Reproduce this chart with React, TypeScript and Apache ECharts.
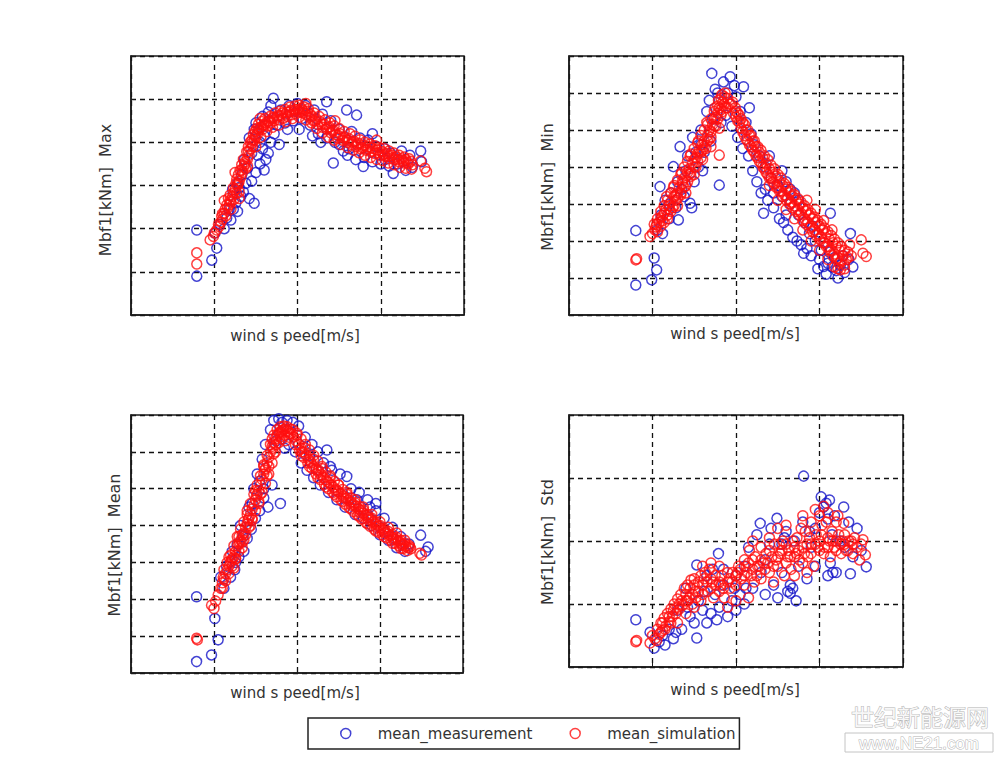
import React, { useEffect, useRef } from "react";
import * as echarts from "echarts";

// ---------- data (x: wind speed grid units, y: load grid units) ----------
const maxMeas: number[][] = [
  [0.79,1.97],[0.79,0.9],[0.97,1.27],[1.03,1.55],[1.01,1.9],[1.07,2.1],[1.12,2.0],[1.15,2.25],[1.2,2.2],[1.18,2.45],
  [1.23,2.45],[1.28,2.4],[1.26,2.6],[1.32,2.75],[1.22,2.9],[1.3,2.95],[1.35,2.85],[1.42,2.7],[1.38,3.05],[1.28,3.05],
  [1.33,3.25],[1.45,3.1],[1.48,2.59],[1.4,3.4],[1.36,3.6],[1.5,3.3],[1.55,3.5],[1.6,3.36],[1.52,3.7],[1.45,3.75],
  [1.58,3.85],[1.62,3.6],[1.65,3.75],[1.55,4.0],[1.48,4.3],[1.42,4.1],[1.6,4.15],[1.68,4.0],[1.5,4.45],[1.58,4.6],
  [1.65,4.7],[1.71,5.02],[1.68,4.85],[1.75,4.4],[1.8,4.75],[1.85,4.45],[1.9,4.85],[1.95,4.5],[2.0,4.9],[2.05,4.55],
  [2.1,4.85],[2.15,4.4],[2.2,4.75],[2.25,4.2],[2.3,4.65],[2.35,4.94],[2.28,4.0],[2.4,4.5],[2.43,3.52],[2.45,4.0],
  [2.5,4.3],[2.55,3.8],[2.59,4.75],[2.71,4.63],[2.65,4.25],[2.6,3.7],[2.7,3.6],[2.75,4.1],[2.79,3.44],[2.8,3.65],
  [2.85,4.05],[2.9,3.55],[2.95,3.9],[3.0,3.5],[3.05,3.85],[3.1,3.45],[3.15,3.28],[3.12,3.75],[3.2,3.5],[3.25,3.8],
  [3.3,3.35],[3.35,3.7],[3.38,3.42],[3.48,3.8],[3.49,3.55],[2.02,4.3],[1.88,4.3],[2.18,4.15],[2.35,4.1],[2.5,3.95],
  [2.62,3.85],[2.9,4.2],[3.05,3.6],[1.72,4.2],[1.78,3.95]
];
const maxSim: number[][] = [
  [0.79,1.44],[0.79,1.18],[0.95,1.74],[0.99,1.82],[1.03,1.97],[1.06,2.05],[1.08,2.15],[1.1,2.22],[1.12,2.35],[1.14,2.3],
  [1.16,2.48],[1.18,2.55],[1.2,2.62],[1.17,2.7],[1.22,2.75],[1.24,2.68],[1.25,2.9],[1.27,2.82],[1.28,3.0],[1.3,3.1],
  [1.26,3.05],[1.32,3.2],[1.34,3.3],[1.31,3.35],[1.36,3.45],[1.38,3.4],[1.37,3.55],[1.4,3.62],[1.42,3.7],[1.39,3.78],
  [1.44,3.85],[1.46,3.92],[1.43,4.0],[1.48,4.05],[1.5,4.12],[1.47,4.18],[1.52,4.2],[1.54,4.28],[1.51,4.32],[1.56,4.35],
  [1.58,4.3],[1.6,4.4],[1.62,4.45],[1.64,4.38],[1.66,4.5],[1.68,4.45],[1.7,4.55],[1.72,4.5],[1.75,4.58],[1.78,4.52],
  [1.8,4.62],[1.83,4.56],[1.86,4.65],[1.88,4.6],[1.9,4.7],[1.93,4.64],[1.96,4.72],[1.98,4.66],[2.0,4.76],[2.03,4.7],
  [2.05,4.78],[2.07,4.68],[2.1,4.65],[2.12,4.72],[2.14,4.58],[2.17,4.6],[2.19,4.5],[2.22,4.55],[2.24,4.42],[2.27,4.48],
  [2.3,4.35],[2.32,4.42],[2.35,4.3],[2.38,4.36],[2.4,4.22],[2.43,4.28],[2.46,4.18],[2.48,4.1],[2.51,4.2],[2.54,4.05],
  [2.57,4.12],[2.6,4.0],[2.62,4.08],[2.65,3.95],[2.68,4.02],[2.7,3.9],[2.73,3.98],[2.76,3.85],[2.79,3.93],[2.82,3.82],
  [2.85,3.9],[2.88,3.78],[2.9,3.86],[2.93,3.74],[2.96,3.82],[2.99,3.7],[3.02,3.78],[3.05,3.68],[3.08,3.74],[3.1,3.62],
  [3.13,3.7],[3.16,3.6],[3.19,3.66],[3.22,3.55],[3.25,3.62],[3.28,3.52],[3.3,3.6],[3.33,3.5],[3.36,3.56],[3.38,3.48],
  [3.48,3.57],[3.55,3.32],[3.53,3.4],[2.45,4.5],[2.95,4.05],[2.1,4.9],[1.55,4.55],[1.25,3.3],[1.12,2.65],[1.3,2.7],
  [1.0,1.9],[1.05,2.1],[1.1,2.35],[1.15,2.55],[1.19,2.78],[1.23,2.95],[1.27,3.15],[1.29,3.25],[1.33,3.48],[1.35,3.6],
  [1.41,3.9],[1.45,4.05],[1.49,4.25],[1.53,4.42],[1.57,4.48],[1.61,4.55],[1.67,4.6],[1.73,4.68],[1.79,4.72],[1.85,4.76],
  [1.91,4.82],[1.97,4.84],[2.02,4.86],[2.08,4.82],[2.13,4.78],[2.2,4.68],[2.26,4.6],[2.33,4.52],[2.39,4.45],[2.44,4.38],
  [2.5,4.32],[2.56,4.25],[2.63,4.2],[2.69,4.14],[2.75,4.06],[2.81,4.0],[2.87,3.96],[2.93,3.92],[2.98,3.88],[3.04,3.86],
  [3.1,3.8],[3.16,3.75],[3.22,3.7],[3.28,3.66],[3.34,3.62],
  [1.2,2.45],[1.3,2.85],[1.4,3.45],[1.5,3.9],[1.56,4.12],[1.63,4.25],[1.7,4.35],[1.78,4.4],[1.86,4.48],[1.94,4.55],
  [2.02,4.58],[2.1,4.52],[2.17,4.45],[2.23,4.32],[2.3,4.22],[2.37,4.12],[2.44,4.05],[2.52,3.95],[2.6,3.88],[2.67,3.82],
  [2.74,3.76],[2.81,3.7],[2.88,3.65],[2.95,3.6],[3.02,3.58],[3.09,3.52],[3.16,3.48],[3.23,3.42],[3.3,3.4],[3.37,3.38],
  [2.06,4.74],[2.16,4.64],[2.21,4.5],[2.29,4.42],[2.36,4.34],[2.42,4.25],[2.49,4.16],[2.55,4.1],[2.61,4.04],[2.66,4.0],
  [2.72,3.94],[2.78,3.88],[2.84,3.84],[2.9,3.8],[2.97,3.76],[3.03,3.72],[3.09,3.68],[3.15,3.64],[3.21,3.6],[3.27,3.56],
  [3.32,3.54],[1.09,2.28],[1.13,2.45],[1.19,2.65],[1.23,2.82],[1.29,3.05],[1.33,3.35],[1.37,3.5],[1.41,3.78],[1.45,3.98],
  [1.49,4.15],[1.53,4.3],[1.59,4.4],[1.65,4.48],[1.71,4.58],[1.77,4.62],[1.82,4.68],[1.87,4.7],[1.92,4.74],[1.97,4.76],
  [2.01,4.72]
];
const minMeas: number[][] = [
  [0.8,2.28],[0.8,0.81],[1.02,1.54],[1.05,1.22],[0.99,0.95],[1.06,2.3],[1.09,3.47],[1.1,2.7],[1.15,3.1],[1.2,2.6],
  [1.25,4.01],[1.22,3.3],[1.31,2.57],[1.33,4.55],[1.3,3.6],[1.38,3.2],[1.45,3.02],[1.47,2.9],[1.42,4.3],[1.5,3.6],
  [1.55,4.0],[1.48,4.8],[1.58,5.0],[1.6,3.9],[1.65,5.5],[1.62,4.4],[1.7,4.7],[1.71,6.53],[1.75,6.1],[1.68,5.8],
  [1.8,3.51],[1.78,6.0],[1.82,5.2],[1.85,6.3],[1.88,5.4],[1.93,6.44],[1.9,6.0],[1.95,5.1],[2.0,5.9],[2.02,4.8],
  [2.05,5.5],[2.09,6.17],[2.08,4.5],[2.12,5.2],[2.15,4.3],[2.18,4.9],[2.2,3.9],[2.22,4.6],[2.25,3.6],[2.28,4.3],
  [2.3,3.3],[2.33,2.75],[2.35,4.0],[2.38,3.1],[2.42,3.7],[2.45,2.9],[2.5,3.5],[2.52,2.6],[2.57,2.5],[2.55,3.2],
  [2.6,3.6],[2.62,2.3],[2.65,3.0],[2.68,2.1],[2.7,3.3],[2.73,2.0],[2.75,2.7],[2.78,1.9],[2.81,1.67],[2.82,2.5],
  [2.85,1.8],[2.88,2.2],[2.9,1.6],[2.95,2.0],[3.0,1.5],[3.05,1.31],[3.02,1.75],[3.1,1.4],[3.13,2.75],[3.15,1.3],
  [3.18,1.55],[3.2,1.2],[3.25,1.35],[3.3,1.15],[3.37,2.2],[3.35,1.5],[3.4,1.3],[2.55,3.9],[2.65,3.4],[2.75,3.1],
  [2.45,3.3],[2.35,3.4],[1.4,3.9],[1.52,4.4],[1.2,3.0],[1.35,3.4],[1.12,2.2],[1.28,2.9],[1.58,4.6],[1.72,5.3],
  [1.98,6.2],[2.16,5.6],[2.4,4.3],[2.6,2.7],[2.92,2.4],[3.08,1.1],[3.22,1.0],[3.12,1.7],[2.98,1.25],[3.28,1.6]
];
const minSim: number[][] = [
  [0.8,1.49],[0.81,1.52],[0.97,2.12],[1.0,2.2],[1.03,2.3],[1.05,2.45],[1.08,2.5],[1.1,2.62],[1.12,2.55],[1.14,2.75],
  [1.16,2.85],[1.18,2.7],[1.2,2.95],[1.22,3.05],[1.24,2.9],[1.26,3.2],[1.28,3.1],[1.3,3.3],[1.32,3.45],[1.34,3.25],
  [1.36,3.55],[1.38,3.7],[1.4,3.5],[1.42,3.85],[1.44,3.95],[1.46,3.75],[1.48,4.1],[1.5,4.2],[1.52,4.0],[1.54,4.35],
  [1.56,4.45],[1.58,4.25],[1.6,4.6],[1.62,4.7],[1.64,4.5],[1.66,4.85],[1.68,5.0],[1.7,4.8],[1.72,5.15],[1.74,5.3],
  [1.76,5.1],[1.78,5.45],[1.8,5.6],[1.82,5.4],[1.84,5.75],[1.86,5.9],[1.88,5.6],[1.9,5.85],[1.83,5.95],[1.92,5.7],
  [1.79,5.8],[1.87,6.0],[1.25,3.45],[1.35,3.85],[1.45,4.3],[1.55,4.7],[1.65,5.2],[1.75,5.6],[1.3,2.95],[1.4,3.3],
  [1.5,3.8],[1.6,4.2],[1.7,4.55],[1.8,5.05],[1.8,4.32],[1.17,3.2],
  [1.02,2.45],[1.06,2.6],[1.1,2.8],[1.14,2.95],[1.18,3.1],[1.22,3.3],[1.26,3.5],[1.3,3.65],[1.34,3.8],[1.38,4.0],
  [1.42,4.15],[1.46,4.35],[1.5,4.5],[1.54,4.65],[1.58,4.85],[1.62,5.0],[1.66,5.15],[1.7,5.3],[1.74,5.5],[1.78,5.65],
  [1.82,5.85],[1.06,2.25],[1.1,2.4],[1.14,2.5],[1.18,2.6],[1.22,2.8],[1.26,2.95],[1.3,3.15],[1.34,3.3],[1.38,3.45],
  [1.42,3.6],[1.46,3.85],[1.5,4.0],[1.54,4.15],[1.58,4.4],[1.62,4.55],[1.66,4.7],[1.7,4.95],[1.74,5.1],[1.78,5.3],
  [1.82,5.55],[1.86,5.7],
  [1.04,2.38],[1.12,2.68],[1.2,2.85],[1.28,3.25],[1.36,3.62],[1.44,3.8],[1.52,4.25],[1.6,4.45],[1.68,4.75],[1.76,5.35],
  [1.84,5.5],[1.9,5.6],
  [1.94,5.7],[1.97,5.45],[1.99,5.6],[2.02,5.25],[2.04,5.4],[2.06,5.05],[2.08,5.2],[2.1,4.85],[2.12,5.0],[2.14,4.7],
  [2.16,4.85],[2.18,4.55],[2.2,4.7],[2.22,4.4],[2.24,4.55],[2.26,4.25],[2.28,4.4],[2.3,4.1],[2.32,4.25],[2.34,3.95],
  [2.36,4.1],[2.38,3.8],[2.4,3.95],[2.42,3.7],[2.44,3.85],[2.46,3.55],[2.48,3.75],[2.5,3.45],[2.52,3.6],[2.54,3.35],
  [2.56,3.5],[2.58,3.25],[2.6,3.4],[2.62,3.15],[2.64,3.3],[2.66,3.05],[2.68,3.2],[2.7,2.95],[2.72,3.1],[2.74,2.85],
  [2.76,3.0],[2.78,2.75],[2.8,2.9],[2.82,2.6],[2.84,2.8],[2.86,2.5],[2.88,2.7],[2.9,2.4],[2.92,2.6],[2.94,2.3],
  [2.96,2.5],[2.98,2.2],[3.0,2.4],[3.02,2.1],[3.04,2.3],[3.06,1.95],[3.08,2.2],[3.1,1.85],[3.12,2.05],[3.14,1.75],
  [3.16,1.95],[3.18,1.65],[3.2,1.85],[3.22,1.55],[3.24,1.75],[3.26,1.45],[3.28,1.6],[3.3,1.35],[3.32,1.5],[3.34,1.7],
  [3.18,1.3],[3.25,1.22],[3.1,1.5],[3.0,1.75],[2.9,2.0],[2.8,2.3],[2.7,2.6],[2.6,2.85],[2.5,3.1],[2.4,3.5],
  [2.95,2.85],[2.85,3.1],[3.05,2.55],[3.15,2.3],[3.5,2.03],[3.52,1.67],[3.56,1.58],[3.38,1.6],[3.36,1.9],
  [1.96,5.75],[2.0,5.5],[2.04,5.2],[2.08,4.95],[2.12,4.75],[2.16,4.6],[2.2,4.45],[2.24,4.3],[2.28,4.15],[2.32,4.0],
  [2.36,3.85],[2.4,3.7],[2.44,3.6],[2.48,3.45],[2.52,3.35],[2.56,3.2],[2.6,3.1],[2.64,3.0],[2.68,2.9],[2.72,2.8],
  [2.76,2.7],[2.8,2.55],[2.84,2.45],[2.88,2.35],[2.92,2.25],[2.96,2.15],[3.0,2.05],[3.04,1.95],[3.08,1.85],[3.12,1.75],
  [3.16,1.6],[3.2,1.5],[3.24,1.4],[2.02,5.45],[2.1,5.15],[2.18,4.85],[2.26,4.55],[2.34,4.3],[2.42,4.05],[2.5,3.8],
  [2.58,3.55],[2.66,3.35],[2.74,3.15],[2.82,2.95],[2.9,2.75],[2.98,2.55],[3.06,2.35],[3.14,2.15],[3.22,1.95],[3.3,1.75],
  [2.0,5.35],[2.06,5.3],[2.14,5.0],[2.22,4.7],[2.3,4.45],[2.38,4.2],[2.46,3.95],[2.54,3.7],[2.62,3.45],[2.7,3.25],
  [2.78,3.05],[2.86,2.85],[2.94,2.65],[3.02,2.45],[3.1,2.25],[3.18,2.05],[3.26,1.85],[3.34,1.55],[3.3,1.25],[3.22,1.25]
];
const meanMeas: number[][] = [
  [0.79,2.07],[0.79,0.31],[0.97,0.49],[1.05,0.9],[1.01,1.48],[1.08,2.6],[1.12,2.3],[1.15,2.9],[1.2,2.6],[1.22,3.3],
  [1.25,2.8],[1.28,3.5],[1.3,3.15],[1.32,4.0],[1.36,3.3],[1.4,3.65],[1.42,4.5],[1.45,3.9],[1.48,5.0],[1.5,4.2],
  [1.52,5.4],[1.55,4.4],[1.58,5.8],[1.6,4.75],[1.62,6.2],[1.65,4.5],[1.68,6.6],[1.7,5.1],[1.72,6.85],[1.75,6.3],
  [1.78,6.9],[1.8,4.6],[1.82,6.8],[1.85,6.1],[1.88,6.85],[1.9,6.2],[1.95,6.8],[1.98,6.0],[2.02,6.7],[2.05,5.7],
  [2.1,6.4],[2.12,5.5],[2.18,6.2],[2.2,5.3],[2.25,6.0],[2.28,5.1],[2.32,5.7],[2.36,6.05],[2.38,4.9],[2.42,5.5],
  [2.48,4.7],[2.52,5.4],[2.6,5.33],[2.58,4.5],[2.65,5.0],[2.7,4.3],[2.75,4.9],[2.8,4.2],[2.85,4.7],[2.9,4.0],
  [2.95,4.4],[3.0,3.75],[3.05,4.2],[3.1,3.6],[3.15,3.95],[3.2,3.4],[3.25,3.7],[3.3,3.3],[3.35,3.5],[3.49,3.74],
  [3.58,3.42],[3.55,3.3],[2.4,5.6],[2.15,5.9],[2.95,4.6],[1.55,5.2],[1.35,3.7],[1.26,3.0],[1.6,5.0],[1.46,4.6],
  [2.72,4.7],[2.88,4.5]
];
const meanSim: number[][] = [
  [0.79,0.94],[0.8,0.9],[0.97,1.84],[1.0,1.75],[1.05,2.12],[1.02,1.95],
  [1.08,2.3],[1.1,2.45],[1.12,2.55],[1.14,2.7],[1.16,2.8],[1.18,2.9],[1.2,3.0],[1.22,3.1],[1.24,3.15],[1.26,3.3],
  [1.28,3.45],[1.3,3.5],[1.32,3.6],[1.34,3.75],[1.36,3.8],[1.38,3.95],[1.4,4.05],[1.42,4.2],[1.44,4.3],[1.46,4.45],
  [1.48,4.55],[1.5,4.7],[1.52,4.85],[1.54,4.95],[1.56,5.1],[1.58,5.25],[1.6,5.4],[1.62,5.55],[1.64,5.7],[1.66,5.85],
  [1.68,6.0],[1.7,6.15],[1.72,6.25],[1.74,6.35],[1.76,6.45],[1.78,6.5],[1.8,6.55],[1.82,6.58],[1.84,6.6],[1.86,6.62],
  [1.88,6.58],[1.9,6.55],
  [1.18,3.15],[1.26,3.1],[1.3,3.7],[1.36,3.6],[1.4,4.3],[1.46,4.2],[1.5,4.95],[1.56,4.85],[1.6,5.65],[1.66,5.6],
  [1.7,6.35],[1.75,6.2],[1.8,6.4],[1.85,6.45],[1.9,6.4],[1.72,5.95],[1.64,5.35],[1.54,4.6],[1.44,4.0],[1.34,3.4],
  [1.24,2.85],
  [1.93,6.5],[1.96,6.4],[1.99,6.3],[2.02,6.2],[2.05,6.1],[2.08,6.0],[2.11,5.9],[2.14,5.8],[2.17,5.7],[2.2,5.6],
  [2.23,5.52],[2.26,5.45],[2.29,5.38],[2.32,5.3],[2.35,5.24],[2.38,5.17],[2.41,5.1],[2.44,5.04],[2.47,4.98],[2.5,4.92],
  [2.53,4.86],[2.56,4.8],[2.59,4.74],[2.62,4.69],[2.65,4.64],[2.68,4.58],[2.71,4.52],[2.74,4.46],[2.77,4.4],[2.8,4.34],
  [2.83,4.28],[2.86,4.22],[2.89,4.16],[2.92,4.1],[2.95,4.04],[2.98,3.98],[3.01,3.93],[3.04,3.88],[3.07,3.82],[3.1,3.77],
  [3.13,3.72],[3.16,3.67],[3.19,3.62],[3.22,3.58],[3.25,3.53],[3.28,3.48],[3.31,3.44],[3.34,3.4],[3.37,3.37],
  [2.0,6.45],[2.1,6.1],[2.2,5.8],[2.3,5.55],[2.4,5.3],[2.5,5.1],[2.6,4.9],[2.7,4.7],[2.8,4.5],[2.9,4.3],
  [3.0,4.1],[3.1,3.95],[3.2,3.8],[3.3,3.6],[2.05,5.9],[2.15,5.6],[2.25,5.3],[2.35,5.05],[2.45,4.85],[2.55,4.65],
  [2.65,4.45],[2.75,4.25],[2.85,4.05],[2.95,3.85],[3.05,3.7],[3.15,3.52],[3.25,3.38],[3.5,3.2],[3.48,3.25],
  [1.1,2.3],[1.14,2.5],[1.18,2.7],[1.22,2.9],[1.26,3.1],[1.3,3.3],[1.34,3.55],[1.38,3.75],[1.42,3.95],[1.46,4.15],
  [1.5,4.4],[1.54,4.65],[1.58,4.9],[1.62,5.15],[1.66,5.4],[1.7,5.7],[1.74,6.0],[1.78,6.25],[1.82,6.35],[1.86,6.3],
  [1.12,2.8],[1.16,3.0],[1.2,3.2],[1.24,3.45],[1.28,3.7],[1.32,3.9],[1.36,4.1],[1.4,4.4],[1.44,4.6],[1.48,4.85],
  [1.52,5.1],[1.56,5.35],[1.6,5.6],[1.64,5.9],[1.68,6.2],[1.72,6.45],[1.76,6.6],[1.8,6.68],[1.84,6.7],[1.88,6.68],
  [1.92,6.62],
  [1.95,6.6],[2.0,6.5],[2.05,6.35],[2.1,6.2],[2.15,6.05],[2.2,5.9],[2.25,5.75],[2.3,5.6],[2.35,5.45],[2.4,5.35],
  [2.45,5.2],[2.5,5.1],[2.55,4.98],[2.6,4.85],[2.65,4.75],[2.7,4.62],[2.75,4.52],[2.8,4.42],[2.85,4.3],[2.9,4.2],
  [2.95,4.1],[3.0,4.0],[3.05,3.92],[3.1,3.84],[3.15,3.76],[3.2,3.68],[3.25,3.6],[3.3,3.52],[3.35,3.46],
  [1.98,6.2],[2.03,6.05],[2.08,5.85],[2.13,5.7],[2.18,5.55],[2.23,5.4],[2.28,5.25],[2.33,5.12],[2.38,5.0],[2.43,4.9],
  [2.48,4.78],[2.53,4.68],[2.58,4.58],[2.63,4.48],[2.68,4.38],[2.73,4.28],[2.78,4.18],[2.83,4.08],[2.88,3.98],[2.93,3.9],
  [2.98,3.82],[3.03,3.75],[3.08,3.66],[3.13,3.6],[3.18,3.52],[3.23,3.45],[3.28,3.38],[3.33,3.32],
  [1.11,2.6],[1.21,3.05],[1.31,3.55],[1.41,4.15],[1.51,4.8],[1.61,5.5],[1.71,6.1],[1.81,6.5],[1.91,6.5],[2.06,6.0],
  [2.16,5.75],[2.26,5.5],[2.36,5.2],[2.46,4.95],[2.56,4.75],[2.66,4.55],[2.76,4.35],[2.86,4.15],[2.96,3.95],[3.06,3.8],
  [3.16,3.62],[3.26,3.48],[3.36,3.42]
];
const stdMeas: number[][] = [
  [0.8,0.75],[0.97,0.55],[1.02,0.3],[1.08,0.4],[1.12,0.5],[1.15,0.35],[1.2,0.6],[1.25,0.45],[1.3,0.9],[1.35,0.6],
  [1.4,1.25],[1.45,0.8],[1.53,1.62],[1.5,0.7],[1.53,0.46],[1.55,1.05],[1.6,0.9],[1.65,1.45],[1.7,0.85],[1.77,0.75],
  [1.79,1.8],[1.75,1.15],[1.8,0.95],[1.85,1.3],[1.9,0.8],[1.95,1.05],[2.0,1.45],[2.05,1.15],[2.1,1.0],[2.15,1.9],
  [2.2,1.25],[2.25,2.1],[2.29,2.28],[2.3,1.5],[2.35,1.15],[2.4,1.95],[2.45,1.3],[2.49,2.36],[2.5,1.1],[2.55,1.5],
  [2.6,2.15],[2.65,1.17],[2.65,1.3],[2.7,2.0],[2.72,1.05],[2.75,1.6],[2.8,2.3],[2.81,3.03],[2.85,1.4],[2.9,1.9],
  [2.95,2.2],[3.0,2.45],[3.05,2.54],[3.02,2.7],[3.08,2.6],[3.1,2.35],[3.13,1.65],[3.15,2.1],[3.2,1.5],[3.25,2.0],
  [3.29,2.54],[3.3,1.9],[3.37,1.48],[3.4,1.75],[3.56,1.59],[3.5,1.85],[2.55,1.95],[2.35,1.7],[1.85,1.55],[1.65,0.7],
  [1.42,0.95],[2.0,0.9],[2.95,1.6],[3.12,2.65],[3.18,2.4],[2.1,1.6],[1.62,1.2],[1.98,1.25],[2.12,1.25],[2.62,1.2],
  [2.68,1.25],[3.1,1.45],[3.16,1.5],[2.42,2.2],[2.58,2.05],[2.88,2.15],[1.28,0.55],[1.72,1.55],[3.45,2.2],[3.35,2.3]
];
const stdSim: number[][] = [
  [0.8,0.4],[0.81,0.42],[0.97,0.38],[1.0,0.5],[1.03,0.45],[1.06,0.6],[1.08,0.52],[1.1,0.7],[1.12,0.58],[1.14,0.78],
  [1.16,0.65],[1.18,0.85],[1.2,0.72],[1.22,0.92],[1.24,0.8],[1.26,1.0],[1.28,0.85],[1.3,1.08],[1.32,0.92],[1.34,1.15],
  [1.36,0.98],[1.38,1.25],[1.4,1.05],[1.42,1.3],[1.44,1.1],[1.46,1.38],[1.48,1.15],[1.5,1.4],[1.52,1.2],[1.55,1.35],
  [1.58,1.05],[1.6,1.3],[1.63,1.5],[1.66,1.2],[1.7,1.4],[1.73,1.1],[1.76,1.3],[1.8,1.2],[1.83,1.45],[1.86,1.1],
  [1.9,1.35],[1.93,1.25],[1.96,1.5],[2.0,1.3],[2.03,1.6],[2.06,1.4],[2.1,1.7],[2.13,1.5],[2.16,1.85],[2.2,1.55],
  [2.23,1.75],[2.26,1.6],[2.3,1.9],[2.33,1.65],[2.36,1.8],[2.4,1.5],[2.43,1.75],[2.46,1.95],[2.5,1.6],[2.53,1.8],
  [2.56,2.0],[2.6,1.65],[2.63,1.85],[2.66,1.55],[2.7,1.75],[2.73,2.05],[2.76,1.7],[2.8,1.9],[2.83,2.15],[2.86,1.75],
  [2.9,1.95],[2.93,1.6],[2.96,2.1],[3.0,1.85],[3.03,2.25],[3.06,1.9],[3.1,2.05],[3.13,1.75],[3.16,2.0],[3.2,1.85],
  [3.23,2.1],[3.26,1.8],[3.29,2.28],[3.3,1.95],[3.34,1.85],[3.38,2.0],[3.4,1.8],[3.5,1.95],[3.52,2.02],[3.48,1.7],
  [3.55,1.78],[1.3,0.7],[1.4,0.85],[1.5,0.95],[1.6,1.6],[1.7,1.65],[1.8,1.6],[2.0,1.05],[2.1,1.3],[2.2,2.0],
  [2.3,1.4],[2.4,2.05],[2.5,2.2],[2.6,2.25],[2.7,1.45],[2.8,2.4],[2.9,2.3],[3.0,2.4],[3.1,2.45],[3.2,2.3],
  [2.15,1.1],[1.9,0.95],[2.45,1.35],[2.85,1.5],[2.95,2.5],[3.05,2.55],
  [1.05,0.42],[1.1,0.55],[1.15,0.6],[1.2,0.8],[1.25,0.9],[1.3,0.95],[1.35,1.05],[1.4,1.15],[1.45,1.25],[1.5,1.3],
  [1.55,1.2],[1.6,1.15],[1.65,1.35],[1.7,1.25],[1.75,1.45],[1.8,1.35],[1.85,1.25],[1.9,1.5],[1.95,1.35],[2.0,1.45],
  [2.05,1.55],[2.1,1.45],[2.15,1.65],[2.2,1.7],[2.25,1.45],[2.3,1.7],[2.35,1.55],[2.4,1.85],[2.45,1.6],[2.5,1.75],
  [2.55,1.85],[2.6,1.95],[2.65,1.75],[2.7,1.9],[2.75,1.85],[2.8,1.65],[2.85,1.95],[2.9,1.8],[2.95,1.95],[3.0,2.0],
  [3.05,1.8],[3.1,1.9],[3.15,2.15],[3.2,2.0],[3.25,1.95],[3.3,2.1],[3.35,2.0],[3.4,1.95],[1.58,1.45],[1.68,1.55],
  [1.48,1.0],[2.22,1.35],[2.58,1.45],[2.78,2.2],[3.08,2.3],[3.22,2.4],
  [1.12,0.7],[1.22,0.7],[1.32,1.0],[1.42,1.05],[1.52,1.1],[1.62,1.4],[1.72,1.35],[1.82,1.3],[1.92,1.4],[2.02,1.5],
  [2.12,1.6],[2.18,1.45],[2.28,1.6],[2.38,1.65],[2.48,1.7],[2.52,1.95],[2.62,1.75],[2.68,2.0],[2.72,1.8],[2.82,1.8],
  [2.88,2.05],[2.98,1.9],[3.02,2.1],[3.12,2.0],[3.18,1.9],[3.28,2.0],[3.32,1.85],[3.42,2.05],[3.45,1.9]
];

const yLabels = ["Mbf1[kNm]  Max", "Mbf1[kNm]  Min", "Mbf1[kNm]  Mean", "Mbf1[kNm]  Std"];
const xLabel = "wind s peed[m/s]";
const yMax = [6, 7, 7, 4];
const seriesNames = ["mean_measurement", "mean_simulation"];

const BLUE = "#1414c8";
const RED = "#ff1010";
const FONT = "DejaVu Sans, Liberation Sans, Arial, sans-serif";

export default function App() {
  const ref = useRef<HTMLDivElement>(null);
  useEffect(() => {
    if (!ref.current) return;
    const chart = echarts.init(ref.current, undefined, { renderer: "svg" });

    const gridBoxes = [
      { left: 131, top: 56, width: 333, height: 259 },
      { left: 569, top: 56, width: 334, height: 259 },
      { left: 131, top: 415, width: 332, height: 258 },
      { left: 569, top: 415, width: 334, height: 252 },
    ];
    const measData = [maxMeas, minMeas, meanMeas, stdMeas];
    const simData = [maxSim, minSim, meanSim, stdSim];

    const grid = gridBoxes.map((g) => ({
      ...g,
      show: true,
      borderColor: "#1a1a1a",
      borderWidth: 1.5,
      backgroundColor: "#fff",
    }));

    const splitLine = { show: true, lineStyle: { color: "#111", type: [5, 4], width: 1.3 } };
    const xAxis = gridBoxes.map((_, i) => ({
      type: "value",
      gridIndex: i,
      min: 0,
      max: 4,
      interval: 1,
      axisLabel: { show: false },
      axisLine: { show: true, lineStyle: { color: "#1a1a1a", width: 1.5 } },
      axisTick: { show: true, inside: true, length: 4, lineStyle: { color: "#1a1a1a" } },
      splitLine,
    }));
    const yAxis = gridBoxes.map((_, i) => ({
      type: "value",
      gridIndex: i,
      min: 0,
      max: yMax[i],
      interval: 1,
      axisLabel: { show: false },
      axisLine: { show: true, lineStyle: { color: "#1a1a1a", width: 1.5 } },
      axisTick: { show: true, inside: true, length: 4, lineStyle: { color: "#1a1a1a" } },
      splitLine,
    }));

    const mk = (name: string, data: number[][], i: number, color: string) => ({
      type: "scatter",
      name,
      xAxisIndex: i,
      yAxisIndex: i,
      data,
      symbol: "circle",
      symbolSize: 10,
      itemStyle: { color: "rgba(0,0,0,0)", borderColor: color, borderWidth: 1.5 },
      emphasis: { disabled: true },
    });
    const series: any[] = [];
    for (let i = 0; i < 4; i++) series.push(mk(seriesNames[0], measData[i], i, BLUE));
    for (let i = 0; i < 4; i++) series.push(mk(seriesNames[1], simData[i], i, RED));

    const yLabelPos = [
      [105, 190],
      [547, 187],
      [114, 545],
      [547, 542],
    ];
    const xLabelPos = [
      [295, 336],
      [735, 334],
      [295, 693],
      [735, 690],
    ];
    const graphic: any[] = [];
    for (let i = 0; i < 4; i++) {
      graphic.push({
        type: "text",
        x: yLabelPos[i][0],
        y: yLabelPos[i][1],
        rotation: Math.PI / 2,
        style: { text: yLabels[i], fontSize: 16, fontFamily: FONT, fill: "#333", textAlign: "center", textVerticalAlign: "middle" },
      });
      graphic.push({
        type: "text",
        x: xLabelPos[i][0],
        y: xLabelPos[i][1],
        style: { text: xLabel, fontSize: 15, fontFamily: FONT, fill: "#333", textAlign: "center", textVerticalAlign: "middle" },
      });
    }
    // watermark
    graphic.push({
      type: "text",
      x: 920,
      y: 716,
      style: {
        text: "世纪新能源网",
        fontSize: 23,
        fontFamily: "Noto Sans CJK SC, sans-serif",
        fill: "#f7f7f7",
        stroke: "#b4b4b4",
        lineWidth: 1,
        textAlign: "center",
        textVerticalAlign: "middle",
      },
    });
    graphic.push({
      type: "rect",
      shape: { x: 845, y: 733, width: 148, height: 19 },
      style: { fill: "none", stroke: "#c4c4c4", lineWidth: 1 },
    });
    graphic.push({
      type: "text",
      x: 919,
      y: 743,
      style: {
        text: "www.NE21.com",
        fontSize: 17,
        fontFamily: "Liberation Sans, Arial, sans-serif",
        fill: "#ffffff",
        stroke: "#b4b4b4",
        lineWidth: 1,
        textAlign: "center",
        textVerticalAlign: "middle",
      },
    });

    chart.setOption({
      animation: false,
      backgroundColor: "#fff",
      grid,
      xAxis,
      yAxis,
      series,
      legend: {
        data: [
          { name: seriesNames[0], itemStyle: { color: "rgba(0,0,0,0)", borderColor: BLUE, borderWidth: 1.5 } },
          { name: seriesNames[1], itemStyle: { color: "rgba(0,0,0,0)", borderColor: RED, borderWidth: 1.5 } },
        ],
        left: 308,
        top: 718,
        orient: "horizontal",
        icon: "circle",
        itemWidth: 10,
        itemHeight: 10,
        itemGap: 37,
        padding: [8, 4, 8, 32],
        borderColor: "#222",
        borderWidth: 1.5,
        backgroundColor: "#fff",
        selectedMode: false,
        textStyle: { fontSize: 15, fontFamily: FONT, color: "#333", padding: [0, 0, 0, 22] },
      },
      graphic,
    });
    return () => chart.dispose();
  }, []);
  return (
    <div
      ref={ref}
      style={{ position: "absolute", left: 0, top: 0, width: 1000, height: 757, background: "#fff" }}
    />
  );
}
